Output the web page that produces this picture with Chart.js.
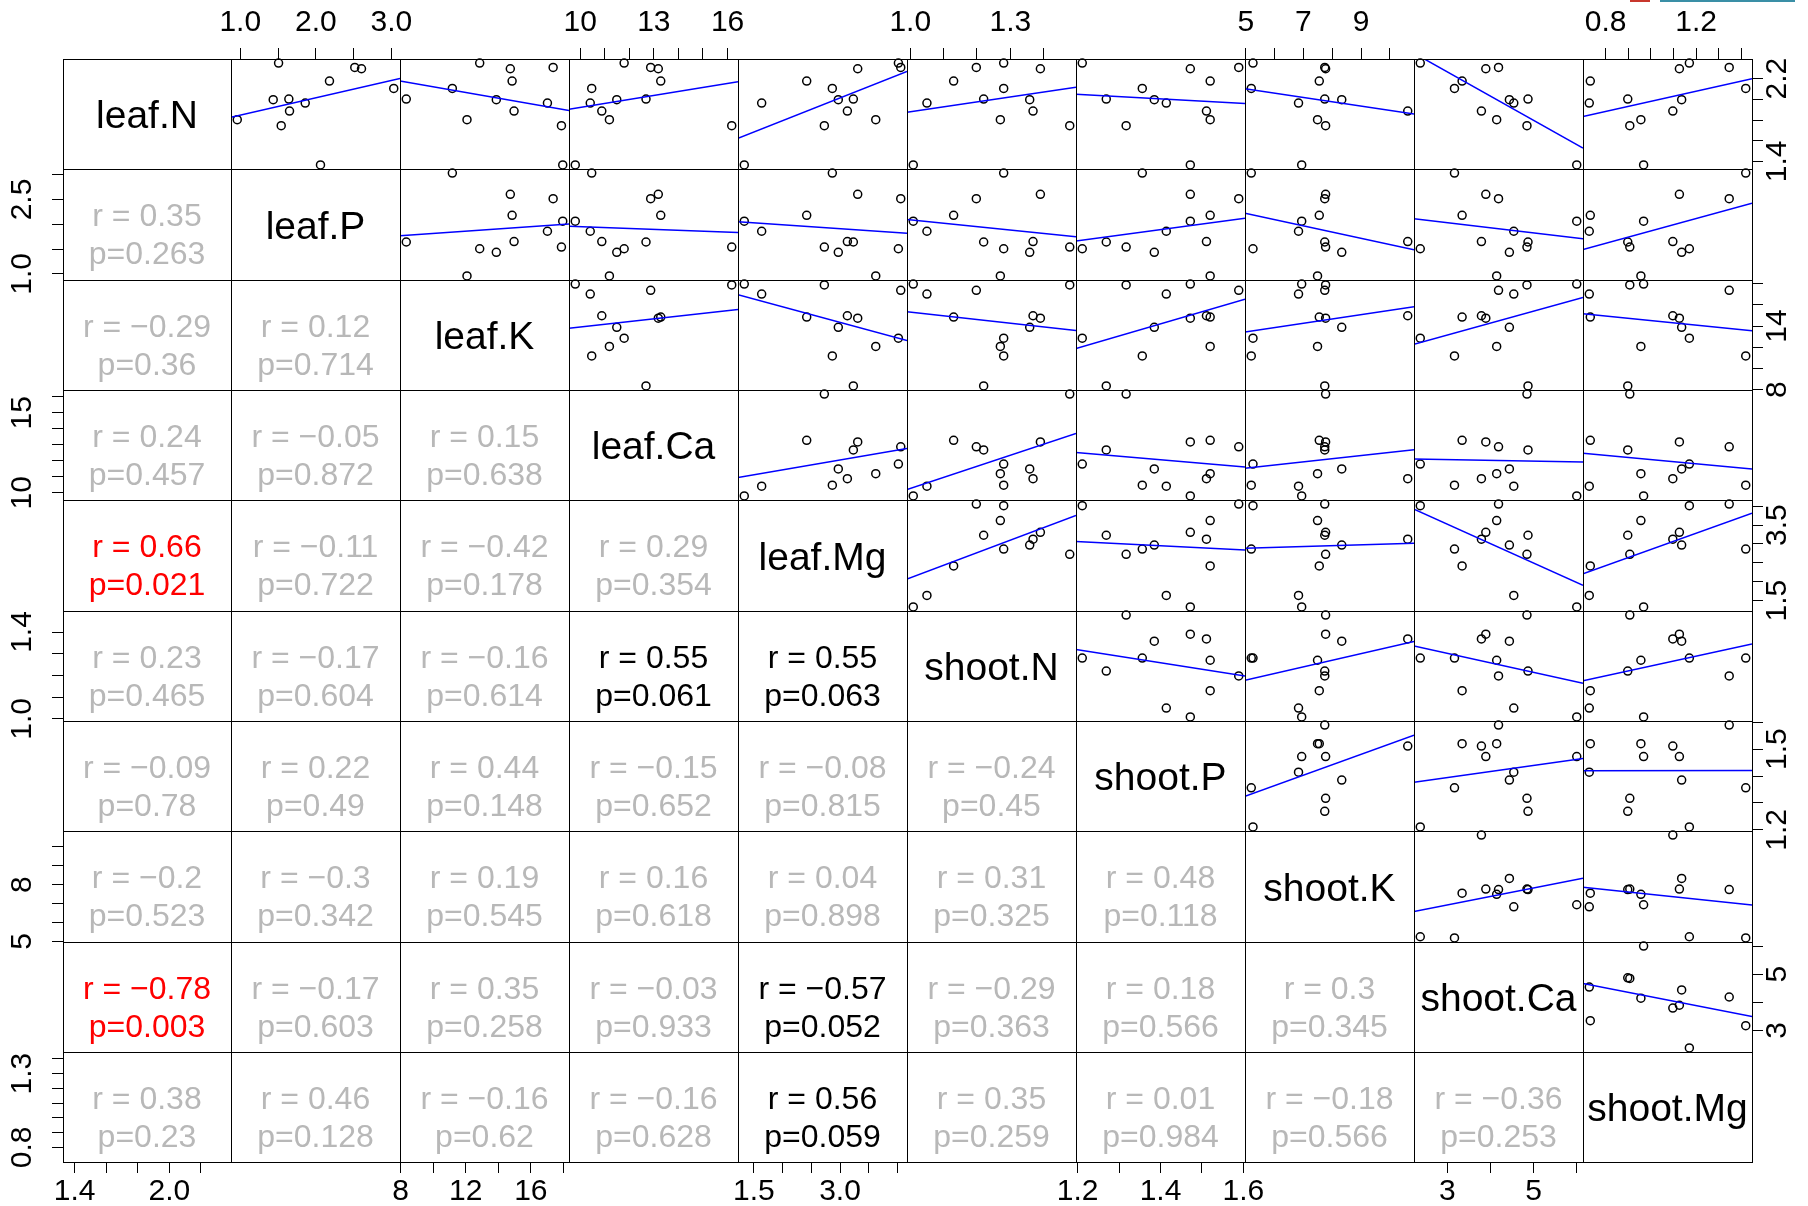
<!DOCTYPE html>
<html>
<head>
<meta charset="utf-8">
<title>leaf / shoot nutrient pairs</title>
<script src="https://cdn.jsdelivr.net/npm/chart.js@4.4.1/dist/chart.umd.min.js"></script>
<style>
  html, body { margin: 0; padding: 0; background: #fff; overflow: hidden; }
  #matrix { position: relative; width: 1808px; height: 1206px; overflow: hidden; }
  #matrix canvas { position: absolute; }
  .strip { position: absolute; top: 0; height: 2px; }
</style>
</head>
<body>
<div id="matrix">
  <div class="strip" style="left:1630px;width:20px;background:#c8372d"></div>
  <div class="strip" style="left:1660px;width:135px;background:#3a8fa6"></div>
</div>
<script>
// twelve samples, one value per sample for each variable
const leafN   = [2.351, 2.309, 2.296, 2.177, 2.106, 2.003, 1.997, 1.964, 1.887, 1.804, 1.746, 1.366];
const leafP   = [1.507, 2.516, 2.605, 2.181, 3.032, 1.643, 1.436, 1.860, 1.652, 0.960, 1.542, 2.062];
const leafK   = [12.86, 17.37, 14.74, 14.85, 11.18, 8.35, 13.88, 17.02, 14.97, 12.08, 17.88, 17.96];
const leafCa  = [11.79, 12.87, 13.18, 13.28, 10.47, 12.68, 11.49, 10.41, 10.88, 11.19, 16.17, 9.80];
const leafMg  = [4.016, 4.057, 3.308, 2.420, 2.866, 3.232, 2.970, 1.636, 3.128, 3.622, 2.727, 1.333];
const shootN  = [1.280, 1.198, 1.390, 1.130, 1.280, 1.220, 1.358, 1.050, 1.368, 1.270, 1.478, 1.009];
const shootP  = [1.211, 1.589, 1.472, 1.520, 1.356, 1.269, 1.385, 1.414, 1.511, 1.520, 1.317, 1.472];
const shootK  = [5.25, 7.74, 7.77, 7.55, 5.19, 7.74, 8.33, 6.83, 10.62, 7.49, 7.77, 6.94];
const shootCa = [2.372, 4.188, 3.893, 3.343, 3.166, 4.872, 4.44, 4.542, 3.791, 4.145, 4.848, 6.003];
const shootMg = [1.170, 1.346, 1.126, 0.7325, 1.419, 0.898, 1.136, 0.728, 1.097, 0.956, 0.907, 0.968];

const varNames = ['leaf.N', 'leaf.P', 'leaf.K', 'leaf.Ca', 'leaf.Mg', 'shoot.N', 'shoot.P', 'shoot.K', 'shoot.Ca', 'shoot.Mg'];
const varValues = [leafN, leafP, leafK, leafCa, leafMg, shootN, shootP, shootK, shootCa, shootMg];

// axis tick positions per variable
const varTicks = [
  [1.4, 1.6, 1.8, 2.0, 2.2],
  [1.0, 1.5, 2.0, 2.5, 3.0],
  [8, 10, 12, 14, 16, 18],
  [10, 11, 12, 13, 14, 15, 16],
  [1.5, 2.0, 2.5, 3.0, 3.5, 4.0],
  [1.0, 1.1, 1.2, 1.3, 1.4],
  [1.2, 1.3, 1.4, 1.5, 1.6],
  [5, 6, 7, 8, 9, 10],
  [3, 4, 5, 6],
  [0.8, 0.9, 1.0, 1.1, 1.2, 1.3, 1.4]
];

// which tick labels get printed on each outer side
const topLabels = { 'leaf.P': ['1.0', '2.0', '3.0'], 'leaf.Ca': ['10', '13', '16'], 'shoot.N': ['1.0', '1.3'], 'shoot.K': ['5', '7', '9'], 'shoot.Mg': ['0.8', '1.2'] };
const bottomLabels = { 'leaf.N': ['1.4', '2.0'], 'leaf.K': ['8', '12', '16'], 'leaf.Mg': ['1.5', '3.0'], 'shoot.P': ['1.2', '1.4', '1.6'], 'shoot.Ca': ['3', '5'] };
const leftLabels = { 'leaf.P': ['1.0', '2.5'], 'leaf.Ca': ['10', '15'], 'shoot.N': ['1.0', '1.4'], 'shoot.K': ['5', '8'], 'shoot.Mg': ['0.8', '1.3'] };
const rightLabels = { 'leaf.N': ['1.4', '2.2'], 'leaf.K': ['8', '14'], 'leaf.Mg': ['1.5', '3.5'], 'shoot.P': ['1.2', '1.5'], 'shoot.Ca': ['3', '5'] };

// Pearson r and p for the lower triangle, row by row
const rValues = [
  [],
  [0.35],
  [-0.29, 0.12],
  [0.24, -0.05, 0.15],
  [0.66, -0.11, -0.42, 0.29],
  [0.23, -0.17, -0.16, 0.55, 0.55],
  [-0.09, 0.22, 0.44, -0.15, -0.08, -0.24],
  [-0.2, -0.3, 0.19, 0.16, 0.04, 0.31, 0.48],
  [-0.78, -0.17, 0.35, -0.03, -0.57, -0.29, 0.18, 0.3],
  [0.38, 0.46, -0.16, -0.16, 0.56, 0.35, 0.01, -0.18, -0.36]
];
const pValues = [
  [],
  [0.263],
  [0.36, 0.714],
  [0.457, 0.872, 0.638],
  [0.021, 0.722, 0.178, 0.354],
  [0.465, 0.604, 0.614, 0.061, 0.063],
  [0.78, 0.49, 0.148, 0.652, 0.815, 0.45],
  [0.523, 0.342, 0.545, 0.618, 0.898, 0.325, 0.118],
  [0.003, 0.603, 0.258, 0.933, 0.052, 0.363, 0.566, 0.345],
  [0.23, 0.128, 0.62, 0.628, 0.059, 0.259, 0.984, 0.566, 0.253]
];

const FONT = '"Liberation Sans", Arial, Helvetica, sans-serif';
const n = varNames.length;
const PAD = 60;        // room around each panel for outer axes
const TICK_LEN = 11;
const colX = Array.from({ length: n + 1 }, (_, k) => Math.round(62.5 + k * 168.9));
const rowY = Array.from({ length: n + 1 }, (_, k) => Math.round(59 + k * 110.33));

const measureCtx = document.createElement('canvas').getContext('2d');
measureCtx.font = '30px ' + FONT;
function widest(labels) {
  return Math.max(0, ...labels.map(l => measureCtx.measureText(l).width));
}

function padRange(v) {
  const lo = Math.min(...v), hi = Math.max(...v), d = (hi - lo) * 0.04;
  return [lo - d, hi + d];
}

function lsFit(xs, ys) {
  const mx = xs.reduce((s, v) => s + v, 0) / xs.length;
  const my = ys.reduce((s, v) => s + v, 0) / ys.length;
  let sxy = 0, sxx = 0;
  xs.forEach((x, k) => { sxy += (x - mx) * (ys[k] - my); sxx += (x - mx) * (x - mx); });
  const b = sxy / sxx;
  return { a: my - b * mx, b };
}

function labelFor(labels) {
  return value => {
    const hit = labels.find(l => Math.abs(Number(l) - value) < 1e-9);
    return hit === undefined ? '' : hit;
  };
}

function signed(v) {
  return String(v).replace('-', '\u2212');
}

function textColor(p) {
  if (p < 0.05) return '#ff0000';
  if (p < 0.1) return '#000000';
  return '#b8b8b8';
}

// panel frame plus the text written in the diagonal / lower panels
const panelPlugin = {
  id: 'panel',
  afterDraw(chart, args, opts) {
    const { ctx, chartArea: a } = chart;
    ctx.save();
    const cx = (a.left + a.right) / 2, cy = (a.top + a.bottom) / 2;
    ctx.textAlign = 'center';
    ctx.textBaseline = 'alphabetic';
    (opts.lines || []).forEach(l => {
      ctx.font = l.size + 'px ' + FONT;
      ctx.fillStyle = l.color;
      ctx.fillText(l.text, cx, cy + l.dy);
    });
    ctx.strokeStyle = '#000';
    ctx.lineWidth = 1;
    ctx.strokeRect(a.left + 0.5, a.top + 0.5, a.right - a.left, a.bottom - a.top);
    ctx.restore();
  }
};

function axisGrid() {
  return { display: true, drawOnChartArea: false, drawTicks: true, tickLength: TICK_LEN, tickColor: '#000', lineWidth: 1 };
}

function buildCell(i, j) {
  const xName = varNames[j], yName = varNames[i];
  const xs = varValues[j], ys = varValues[i];
  const left = colX[j], right = colX[j + 1], top = rowY[i], bottom = rowY[i + 1];
  const showTop = i === 0 && j % 2 === 1;
  const showBottom = i === n - 1 && j % 2 === 0;
  const showLeft = j === 0 && i % 2 === 1;
  const showRight = j === n - 1 && i % 2 === 0;
  const showX = showTop || showBottom;
  const showY = showLeft || showRight;

  const canvas = document.createElement('canvas');
  canvas.width = right - left + 2 * PAD;
  canvas.height = bottom - top + 2 * PAD;
  canvas.style.left = (left - PAD) + 'px';
  canvas.style.top = (top - PAD) + 'px';
  document.getElementById('matrix').appendChild(canvas);

  const [xMin, xMax] = padRange(xs);
  const [yMin, yMax] = padRange(ys);

  const datasets = [];
  let lines = [];
  if (j > i) {
    const { a, b } = lsFit(xs, ys);
    datasets.push({
      data: [{ x: xMin, y: a + b * xMin }, { x: xMax, y: a + b * xMax }],
      showLine: true, borderColor: '#0000ff', borderWidth: 1.5, pointRadius: 0, clip: 0
    });
    datasets.push({
      data: xs.map((x, k) => ({ x, y: ys[k] })),
      pointRadius: 4, pointBorderWidth: 1.5, pointBorderColor: '#000',
      pointBackgroundColor: 'rgba(0,0,0,0)', clip: false
    });
  } else if (i === j) {
    lines = [{ text: xName, size: 39, dy: 14, color: '#000' }];
  } else {
    const r = rValues[i][j], p = pValues[i][j], c = textColor(p);
    lines = [
      { text: 'r = ' + signed(r), size: 32, dy: 1.5, color: c },
      { text: 'p=' + p, size: 32, dy: 39.5, color: c }
    ];
  }

  const xLabels = showTop ? topLabels[xName] : (showBottom ? bottomLabels[xName] : []);
  const yLabels = showLeft ? leftLabels[yName] : (showRight ? rightLabels[yName] : []);
  const yHalf = widest(yLabels) / 2;

  new Chart(canvas, {
    type: 'scatter',
    data: { datasets },
    plugins: [panelPlugin],
    options: {
      responsive: false,
      animation: false,
      devicePixelRatio: 1,
      events: [],
      layout: {
        padding: {
          top: showTop ? 0 : PAD,
          bottom: showBottom ? 0 : PAD,
          left: showLeft ? 0 : PAD,
          right: showRight ? 0 : PAD
        }
      },
      plugins: { legend: { display: false }, tooltip: { enabled: false }, panel: { lines } },
      scales: {
        x: {
          type: 'linear', bounds: 'data', min: xMin, max: xMax,
          display: showX,
          position: showTop ? 'top' : 'bottom',
          grid: axisGrid(),
          border: { display: false },
          ticks: {
            autoSkip: false, maxRotation: 0, minRotation: 0,
            padding: showTop ? 7 : 1,
            color: '#000', font: { family: FONT, size: 30 },
            callback: labelFor(xLabels)
          },
          afterBuildTicks: s => { s.ticks = varTicks[j].map(v => ({ value: v })); },
          afterFit: s => { s.height = showX ? PAD : 0; s.paddingLeft = 0; s.paddingRight = 0; }
        },
        y: {
          type: 'linear', bounds: 'data', min: yMin, max: yMax,
          display: showY,
          position: showLeft ? 'left' : 'right',
          grid: axisGrid(),
          border: { display: false },
          ticks: {
            autoSkip: false, minRotation: 90, maxRotation: 90, crossAlign: 'center',
            padding: showLeft ? 40 - TICK_LEN - yHalf : 26 - TICK_LEN - yHalf,
            color: '#000', font: { family: FONT, size: 30 },
            callback: labelFor(yLabels)
          },
          afterBuildTicks: s => { s.ticks = varTicks[i].map(v => ({ value: v })); },
          afterFit: s => { s.width = showY ? PAD : 0; s.paddingTop = 0; s.paddingBottom = 0; }
        }
      }
    }
  });
}

for (let i = 0; i < n; i++) {
  for (let j = 0; j < n; j++) buildCell(i, j);
}
</script>
</body>
</html>
